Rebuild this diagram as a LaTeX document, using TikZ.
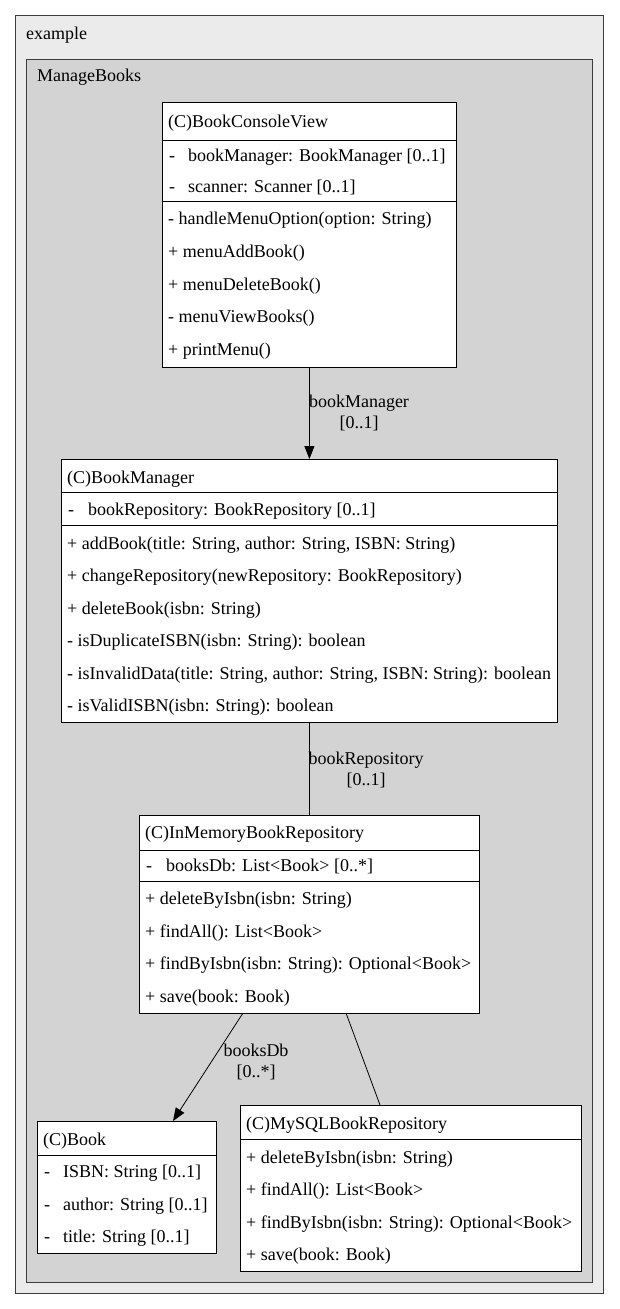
\documentclass[tikz,border=0pt]{standalone}
\usepackage{fontspec}
\setmainfont{Liberation Serif}
\usetikzlibrary{arrows.meta}
\definecolor{outerfill}{HTML}{EBEBEB}
\definecolor{innerfill}{HTML}{D3D3D3}
\definecolor{framecol}{HTML}{3C3C3C}
\begin{document}
\begin{tikzpicture}[x=1pt,y=-1pt,
  frame/.style={draw=framecol, line width=1pt, anchor=north west, inner sep=0pt},
  cls/.style={draw=black, fill=white, line width=0.8pt, anchor=north west, inner sep=0pt},
  t/.style={anchor=base west, yshift=-6.5pt, inner sep=0pt, font=\fontsize{18}{21}\selectfont},
  lbl/.style={align=center, inner sep=0pt, font=\fontsize{18}{21}\selectfont},
  sep/.style={line width=0.8pt},
  conn/.style={line width=0.8pt},
  arr/.style={conn, -{Triangle[length=13pt,width=10pt]}}]
\useasboundingbox (0,0) rectangle (619,1309);
% frames
\node[frame, fill=outerfill, minimum width=588pt, minimum height=1278pt] (example) at (15,15) {};
\node[t] (exlbl) at (26,33) {example};
\node[frame, fill=innerfill, minimum width=566pt, minimum height=1223pt] (mb) at (26,59) {};
\node[t] (mblbl) at (37,75) {ManageBooks};

% BookConsoleView
\node[cls, minimum width=294pt, minimum height=265pt] (cv) at (162,102) {};
\draw[sep] (cv.west |- 0,140) -- (cv.east |- 0,140);
\draw[sep] (cv.west |- 0,201) -- (cv.east |- 0,201);
\node[t] (cv0) at (168,121) {(C)BookConsoleView};
\node[t] (cva1d) at (169,155) {-};
\node[t] (cva1) at (188,155) {bookManager: BookManager [0..1]};
\node[t] (cva2d) at (169,186) {-};
\node[t] (cva2) at (188,186) {scanner: Scanner [0..1]};
\node[t] (cvm1) at (168,218) {- handleMenuOption(option: String)};
\node[t] (cvm2) at (168,251) {+ menuAddBook()};
\node[t] (cvm3) at (168,284) {+ menuDeleteBook()};
\node[t] (cvm4) at (168,316) {- menuViewBooks()};
\node[t] (cvm5) at (168,349) {+ printMenu()};

% BookManager
\node[cls, minimum width=496pt, minimum height=263pt] (bm) at (61,459) {};
\draw[sep] (bm.west |- 0,492) -- (bm.east |- 0,492);
\draw[sep] (bm.west |- 0,525) -- (bm.east |- 0,525);
\node[t] (bm0) at (67,477) {(C)BookManager};
\node[t] (bma1d) at (68,509) {-};
\node[t] (bma1) at (88,509) {bookRepository: BookRepository [0..1]};
\node[t] (bmm1) at (67,543) {+ addBook(title: String, author: String, ISBN: String)};
\node[t] (bmm2) at (67,575) {+ changeRepository(newRepository: BookRepository)};
\node[t] (bmm3) at (67,608) {+ deleteBook(isbn: String)};
\node[t] (bmm4) at (67,640) {- isDuplicateISBN(isbn: String): boolean};
\node[t] (bmm5) at (67,673) {- isInvalidData(title: String, author: String, ISBN: String): boolean};
\node[t] (bmm6) at (67,705) {- isValidISBN(isbn: String): boolean};

% InMemoryBookRepository
\node[cls, minimum width=340pt, minimum height=198pt] (imr) at (139,815) {};
\draw[sep] (imr.west |- 0,850) -- (imr.east |- 0,850);
\draw[sep] (imr.west |- 0,881) -- (imr.east |- 0,881);
\node[t] (imr0) at (145,832) {(C)InMemoryBookRepository};
\node[t] (imra1d) at (146,865) {-};
\node[t] (imra1) at (166,865) {booksDb: List<Book> [0..*]};
\node[t] (imrm1) at (145,898) {+ deleteByIsbn(isbn: String)};
\node[t] (imrm2) at (145,931) {+ findAll(): List<Book>};
\node[t] (imrm3) at (145,963) {+ findByIsbn(isbn: String): Optional<Book>};
\node[t] (imrm4) at (145,996) {+ save(book: Book)};

% Book
\node[cls, minimum width=179pt, minimum height=132pt] (bk) at (37,1121) {};
\draw[sep] (bk.west |- 0,1155) -- (bk.east |- 0,1155);
\node[t] (bk0) at (43,1139) {(C)Book};
\node[t] (bka1d) at (44,1171) {-};
\node[t] (bka1) at (63,1171) {ISBN: String [0..1]};
\node[t] (bka2d) at (44,1204) {-};
\node[t] (bka2) at (63,1204) {author: String [0..1]};
\node[t] (bka3d) at (44,1236) {-};
\node[t] (bka3) at (63,1236) {title: String [0..1]};

% MySQLBookRepository
\node[cls, minimum width=341pt, minimum height=166pt] (my) at (240,1105) {};
\draw[sep] (my.west |- 0,1139) -- (my.east |- 0,1139);
\node[t] (my0) at (246,1123) {(C)MySQLBookRepository};
\node[t] (mym1) at (246,1157) {+ deleteByIsbn(isbn: String)};
\node[t] (mym2) at (246,1189) {+ findAll(): List<Book>};
\node[t] (mym3) at (246,1222) {+ findByIsbn(isbn: String): Optional<Book>};
\node[t] (mym4) at (246,1254) {+ save(book: Book)};

% connectors
\draw[arr] (cv.south) -- (bm.north);
\node[lbl] (l1) at (359,413) {bookManager\\{}[0..1]};
\draw[conn] (bm.south) -- (imr.north);
\node[lbl] (l2) at (366,770) {bookRepository\\{}[0..1]};
\coordinate (c1) at (243,1013);
\coordinate (c2) at (173,1121);
\draw[arr] (c1) -- (c2);
\node[lbl] (l3) at (256,1062) {booksDb\\{}[0..*]};
\coordinate (c3) at (346,1013);
\coordinate (c4) at (380,1105);
\draw[conn] (c3) -- (c4);
\end{tikzpicture}
\end{document}
